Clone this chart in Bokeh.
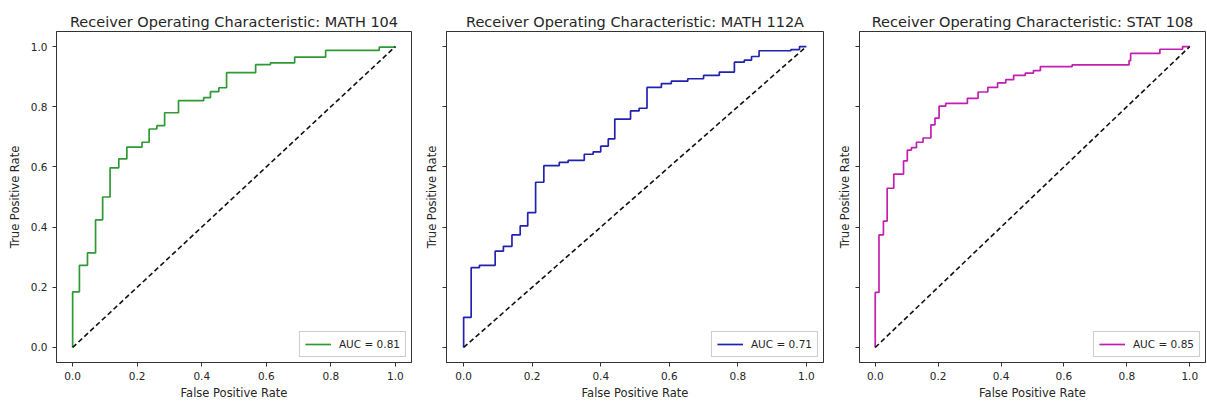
from bokeh.plotting import figure
from bokeh.layouts import row
from bokeh.models import FixedTicker, PrintfTickFormatter, CustomJSTickFormatter, Range1d
from bokeh.embed import file_html
from bokeh.resources import INLINE

# ---- data (ROC points) ----
math104_fpr = [0, 0, 0.021, 0.046, 0.071, 0.093, 0.116, 0.143, 0.168, 0.215, 0.237, 0.261, 0.285,
               0.328, 0.406, 0.427, 0.453, 0.477, 0.567, 0.613, 0.688, 0.784, 0.95, 1.0]
math104_tpr = [0, 0.185, 0.273, 0.314, 0.424, 0.50, 0.597, 0.627, 0.666, 0.682, 0.726, 0.737, 0.78,
               0.82, 0.83, 0.85, 0.863, 0.913, 0.94, 0.946, 0.965, 0.987, 0.998, 1.0]

math112a_fpr = [0, 0, 0.022, 0.046, 0.092, 0.116, 0.141, 0.165, 0.187, 0.21, 0.234, 0.279, 0.305,
                0.352, 0.378, 0.40, 0.422, 0.441, 0.487, 0.512, 0.535, 0.577, 0.606, 0.654, 0.70,
                0.746, 0.79, 0.819, 0.84, 0.862, 0.955, 0.98, 1.0]
math112a_tpr = [0, 0.10, 0.265, 0.273, 0.32, 0.336, 0.374, 0.404, 0.448, 0.549, 0.604, 0.615, 0.622,
                0.642, 0.65, 0.669, 0.693, 0.759, 0.786, 0.795, 0.864, 0.877, 0.885, 0.893, 0.904,
                0.915, 0.948, 0.955, 0.967, 0.986, 0.99, 1.0, 1.0]

stat108_fpr = [0, 0, 0.012, 0.026, 0.038, 0.059, 0.09, 0.102, 0.115, 0.131, 0.152, 0.177, 0.19,
               0.203, 0.224, 0.293, 0.327, 0.358, 0.389, 0.415, 0.44, 0.477, 0.503, 0.525, 0.626,
               0.807, 0.812, 0.905, 0.977, 1.0]
stat108_tpr = [0, 0.183, 0.374, 0.42, 0.529, 0.576, 0.62, 0.656, 0.664, 0.682, 0.696, 0.74, 0.762,
               0.802, 0.811, 0.828, 0.849, 0.864, 0.879, 0.89, 0.904, 0.912, 0.92, 0.933, 0.939,
               0.953, 0.977, 0.991, 1.0, 1.0]

courses = ["MATH 104", "MATH 112A", "STAT 108"]
auc_labels = ["AUC = 0.81", "AUC = 0.71", "AUC = 0.85"]
diag = [0.0, 1.0]
ticks = [0.0, 0.2, 0.4, 0.6, 0.8, 1.0]

colors = ["#2f9a35", "#2222b0", "#c21fb0"]
FONT = "DejaVu Sans"
TXT = "#262626"


def step_xy(fpr, tpr):
    xs, ys = [fpr[0]], [tpr[0]]
    for i in range(1, len(fpr)):
        xs += [fpr[i], fpr[i]]
        ys += [tpr[i - 1], tpr[i]]
    return xs, ys


def make_panel(course, fpr, tpr, auc, color, width, bl, br, show_ylabels):
    p = figure(width=width, height=402, output_backend="svg", toolbar_location=None,
               x_range=Range1d(-0.05, 1.05), y_range=Range1d(-0.05, 1.05),
               min_border_left=bl, min_border_right=br, min_border_top=31,
               min_border_bottom=35, title="Receiver Operating Characteristic: " + course)
    p.title.align = "center"
    p.title.text_font = FONT
    p.title.text_font_size = "14.5px"
    p.title.text_font_style = "normal"
    p.title.text_color = TXT
    p.title.standoff = 4
    p.title.offset = 0
    p.grid.visible = False
    p.outline_line_color = "#333333"
    p.outline_line_alpha = 1.0
    p.outline_line_width = 1
    p.background_fill_color = "white"
    p.border_fill_color = "white"

    for ax in (p.xaxis[0], p.yaxis[0]):
        ax.ticker = FixedTicker(ticks=ticks)
        ax.formatter = PrintfTickFormatter(format="%.1f")
        ax.major_tick_out = 4
        ax.major_tick_in = 0
        ax.minor_tick_out = 0
        ax.minor_tick_in = 0
        ax.axis_line_color = "#333333"
        ax.major_tick_line_color = "#333333"
        ax.major_label_text_font = FONT
        ax.major_label_text_font_size = "10.5px"
        ax.major_label_text_color = TXT
        ax.axis_label_text_font = FONT
        ax.axis_label_text_font_size = "11.5px"
        ax.axis_label_text_font_style = "normal"
        ax.axis_label_text_color = TXT
    p.xaxis.major_label_standoff = 5
    p.xaxis.axis_label_standoff = 3
    p.yaxis.major_label_standoff = 5
    p.yaxis.axis_label_standoff = 6
    p.xaxis.axis_label = "False Positive Rate"
    p.yaxis.axis_label = "True Positive Rate"
    if not show_ylabels:
        p.yaxis.formatter = CustomJSTickFormatter(code="return '';")
        p.yaxis.major_label_standoff = 0
        p.yaxis.axis_label_standoff = 4

    xs, ys = step_xy(fpr, tpr)
    p.line(xs, ys, line_color=color, line_width=1.7, legend_label=auc)
    p.line(diag, diag, line_color="#111111", line_width=1.6, line_dash="5 3")

    lg = p.legend[0]
    lg.location = "bottom_right"
    lg.label_text_font = FONT
    lg.label_text_font_size = "10.5px"
    lg.label_text_color = TXT
    lg.border_line_color = "#cccccc"
    lg.border_line_alpha = 1.0
    lg.background_fill_alpha = 0.8
    lg.margin = 5
    lg.padding = 5
    lg.glyph_width = 26
    lg.glyph_height = 14
    lg.label_standoff = 8
    lg.label_height = 14
    return p


p1 = make_panel(courses[0], math104_fpr, math104_tpr, auc_labels[0], colors[0], 420, 56, 9, True)
p2 = make_panel(courses[1], math112a_fpr, math112a_tpr, auc_labels[1], colors[1], 414, 26, 11, False)
p3 = make_panel(courses[2], stat108_fpr, stat108_tpr, auc_labels[2], colors[2], 372, 20, 1, False)

layout = row(p1, p2, p3, spacing=0)
open("out.html", "w").write(file_html(layout, INLINE))
